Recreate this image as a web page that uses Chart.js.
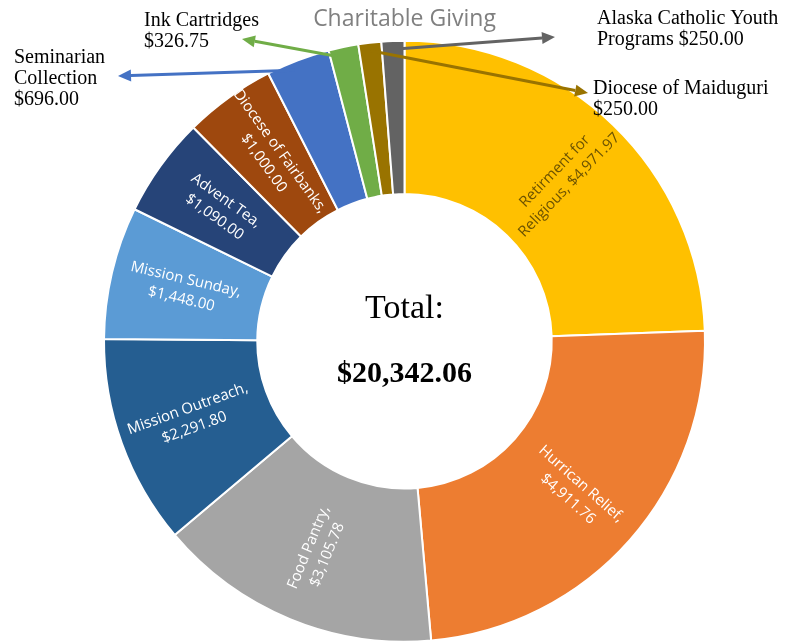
<!DOCTYPE html>
<html>
<head>
<meta charset="utf-8">
<title>Charitable Giving</title>
<script src="https://cdn.jsdelivr.net/npm/chart.js@4.4.1/dist/chart.umd.min.js"></script>
<style>
  html, body { margin: 0; padding: 0; background: #fff; }
  #wrap { width: 785px; height: 643px; }
</style>
</head>
<body>
<div id="wrap"><canvas id="myChart" width="785" height="643"></canvas></div>
<script>
// datos del grafico
const categorias = ['Retirment for Religious', 'Hurrican Relief', 'Food Pantry', 'Mission Outreach',
  'Mission Sunday', 'Advent Tea', 'Diocese of Fairbanks', 'Seminarian Collection',
  'Ink Cartridges', 'Diocese of Maiduguri', 'Alaska Catholic Youth Programs'];
const montos = [4971.97, 4911.76, 3105.78, 2291.80, 1448.00, 1090.00, 1000.00, 696.00, 326.75, 250.00, 250.00];

// etiquetas dentro de cada porcion (null = va afuera con flecha)
const etiquetasDentro = [
  ['Retirment for', 'Religious, $4,971.97'],
  ['Hurrican Relief,', '$4,911.76'],
  ['Food Pantry,', '$3,105.78'],
  ['Mission Outreach,', '$2,291.80'],
  ['Mission Sunday,', '$1,448.00'],
  ['Advent Tea,', '$1,090.00'],
  ['Diocese of Fairbanks,', '$1,000.00'],
  null, null, null, null
];
// etiquetas de afuera
const etiquetasFuera = [
  null, null, null, null, null, null, null,
  ['Seminarian', 'Collection', '$696.00'],
  ['Ink Cartridges', '$326.75'],
  ['Diocese of Maiduguri', '$250.00'],
  ['Alaska Catholic Youth', 'Programs $250.00']
];

const colores = ['#FFC000', '#ED7D31', '#A5A5A5', '#255E91', '#5B9BD5', '#264478',
  '#9E480E', '#4472C4', '#70AD47', '#997300', '#636363'];

// donde va el texto de afuera, la punta de la flecha y de que parte de la porcion sale
const posFuera = {
  7: { x: 14, y: 63, tip: [118, 76], desde: 0.4 },
  8: { x: 144, y: 26, tip: [242, 39], desde: 0.25 },
  9: { x: 593, y: 94, tip: [588, 93], desde: 0.5 },
  10: { x: 597, y: 24, tip: [555, 37], desde: 0.8 }
};

const total = montos.reduce((a, b) => a + b, 0);
const totalTexto = '$' + total.toLocaleString('en-US', { minimumFractionDigits: 2, maximumFractionDigits: 2 });

const etiquetasPorcion = {
  id: 'etiquetasPorcion',
  afterDatasetsDraw(chart) {
    const ctx = chart.ctx;
    const meta = chart.getDatasetMeta(0);
    meta.data.forEach((arc, i) => {
      const lineas = etiquetasDentro[i];
      if (!lineas) return;
      const p = arc.getProps(['x', 'y', 'startAngle', 'endAngle', 'innerRadius', 'outerRadius'], true);
      const mid = (p.startAngle + p.endAngle) / 2;
      const r = (p.innerRadius + p.outerRadius) / 2 + 3;
      let rot = mid;
      if (Math.cos(rot) < 0) rot += Math.PI;
      ctx.save();
      ctx.translate(p.x + Math.cos(mid) * r, p.y + Math.sin(mid) * r);
      ctx.rotate(rot);
      ctx.font = '15px "Open Sans"';
      ctx.textAlign = 'center';
      ctx.textBaseline = 'middle';
      ctx.fillStyle = i === 0 ? '#6d5300' : '#ffffff';
      const alto = 20;
      lineas.forEach((t, k) => {
        ctx.fillText(t, 0, (k - (lineas.length - 1) / 2) * alto);
      });
      ctx.restore();
    });
  }
};

const flechas = {
  id: 'flechas',
  afterDatasetsDraw(chart) {
    const ctx = chart.ctx;
    const meta = chart.getDatasetMeta(0);
    meta.data.forEach((arc, i) => {
      const lineas = etiquetasFuera[i];
      if (!lineas) return;
      const pos = posFuera[i];
      const p = arc.getProps(['x', 'y', 'startAngle', 'endAngle', 'outerRadius'], true);
      const a0 = p.startAngle + (p.endAngle - p.startAngle) * pos.desde;
      const r = p.outerRadius - 8;
      const x0 = p.x + Math.cos(a0) * r;
      const y0 = p.y + Math.sin(a0) * r;
      const [x1, y1] = pos.tip;
      const ang = Math.atan2(y1 - y0, x1 - x0);
      const largo = 13, ancho = 6;
      const bx = x1 - Math.cos(ang) * largo, by = y1 - Math.sin(ang) * largo;
      ctx.save();
      ctx.strokeStyle = colores[i];
      ctx.fillStyle = colores[i];
      ctx.lineWidth = 3;
      ctx.beginPath();
      ctx.moveTo(x0, y0);
      ctx.lineTo(bx, by);
      ctx.stroke();
      ctx.beginPath();
      ctx.moveTo(x1, y1);
      ctx.lineTo(bx + Math.sin(ang) * ancho, by - Math.cos(ang) * ancho);
      ctx.lineTo(bx - Math.sin(ang) * ancho, by + Math.cos(ang) * ancho);
      ctx.closePath();
      ctx.fill();

      // texto
      ctx.fillStyle = '#000';
      ctx.font = '20px "Liberation Serif"';
      ctx.textAlign = 'left';
      ctx.textBaseline = 'alphabetic';
      lineas.forEach((t, k) => ctx.fillText(t, pos.x, pos.y + k * 21));
      ctx.restore();
    });
  }
};

const textoCentro = {
  id: 'textoCentro',
  afterDatasetsDraw(chart) {
    const ctx = chart.ctx;
    const arc = chart.getDatasetMeta(0).data[0];
    const cx = arc.x, cy = arc.y;
    ctx.save();
    ctx.fillStyle = '#000';
    ctx.textAlign = 'center';
    ctx.textBaseline = 'alphabetic';
    ctx.font = '34px "Liberation Serif"';
    ctx.fillText('Total:', cx, cy - 23);
    ctx.font = 'bold 30px "Liberation Serif"';
    ctx.fillText(totalTexto, cx, cy + 41);
    ctx.restore();
  }
};

const chart = new Chart(document.getElementById('myChart').getContext('2d'), {
  type: 'doughnut',
  data: {
    labels: categorias,
    datasets: [{
      data: montos,
      backgroundColor: colores,
      borderColor: '#ffffff',
      borderWidth: 2
    }]
  },
  options: {
    responsive: false,
    animation: false,
    cutout: '49%',
    layout: { padding: { left: 103, right: 79, top: 0, bottom: 0 } },
    plugins: {
      legend: { display: false },
      tooltip: { enabled: false },
      title: {
        display: true,
        text: 'Charitable Giving',
        color: '#808080',
        font: { family: 'Open Sans', size: 23, weight: 'normal' },
        padding: { top: 6, bottom: 6 }
      }
    }
  },
  plugins: [etiquetasPorcion, flechas, textoCentro]
});
</script>
</body>
</html>
